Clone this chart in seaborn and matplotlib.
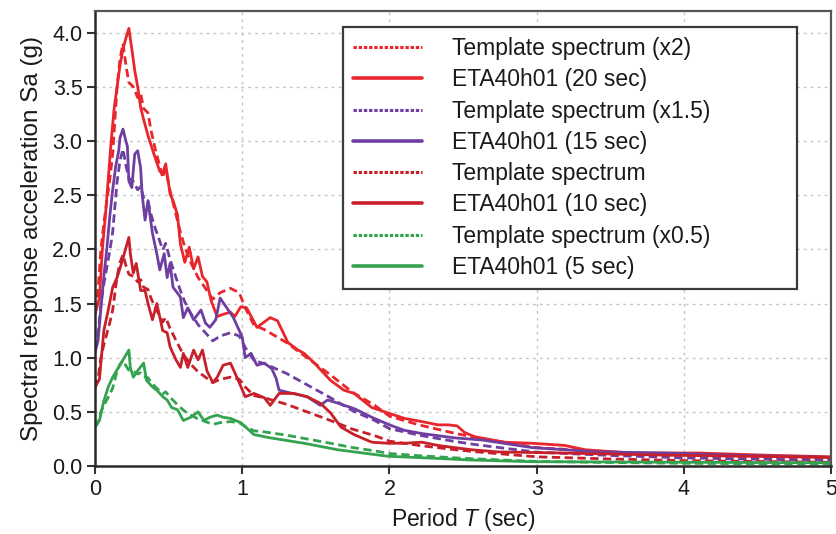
import numpy as np
import pandas as pd
import matplotlib
matplotlib.use("Agg")
import matplotlib.pyplot as plt
from matplotlib.lines import Line2D
import seaborn as sns

# ---------------- data ----------------
template_T = [0, 0.02, 0.04, 0.06, 0.08, 0.10, 0.12, 0.15, 0.17, 0.19, 0.21, 0.23, 0.26,
              0.29, 0.31, 0.33, 0.36, 0.38, 0.41, 0.43, 0.46, 0.48, 0.51, 0.55, 0.58, 0.61,
              0.65, 0.70, 0.75, 0.80, 0.85, 0.92, 0.98, 1.02, 1.08, 1.15, 1.30, 1.44, 1.60,
              1.75, 1.90, 2.00, 2.20, 2.45, 2.60, 3.00, 3.50, 4.00, 4.50, 5.00]
template_Sa = [0.72, 0.80, 1.00, 1.12, 1.22, 1.32, 1.44, 1.75, 1.88, 1.95, 1.85, 1.77, 1.75,
               1.70, 1.72, 1.65, 1.63, 1.55, 1.46, 1.41, 1.33, 1.37, 1.27, 1.16, 1.08, 1.01,
               0.94, 0.87, 0.82, 0.77, 0.80, 0.82, 0.80, 0.73, 0.65, 0.63, 0.57, 0.50, 0.42,
               0.34, 0.28, 0.23, 0.19, 0.15, 0.13, 0.085, 0.065, 0.05, 0.042, 0.035]
template_scales = [2.0, 1.5, 1.0, 0.5]

eta20_T = [0, 0.03, 0.05, 0.07, 0.09, 0.11, 0.13, 0.15, 0.17, 0.19, 0.21, 0.23, 0.25, 0.27,
           0.29, 0.31, 0.33, 0.36, 0.40, 0.44, 0.46, 0.48, 0.51, 0.53, 0.56, 0.58, 0.61, 0.64,
           0.67, 0.70, 0.73, 0.76, 0.79, 0.83, 0.87, 0.92, 0.95, 0.99, 1.03, 1.10, 1.19, 1.24,
           1.31, 1.38, 1.42, 1.49, 1.60, 1.69, 1.76, 1.88, 1.99, 2.10, 2.22, 2.33, 2.40, 2.46,
           2.51, 2.58, 2.78, 2.97, 3.19, 3.33, 3.65, 4.10, 4.56, 5.00]
eta20_Sa = [1.40, 1.55, 2.00, 2.30, 2.65, 3.00, 3.30, 3.50, 3.70, 3.85, 3.95, 4.04, 3.85, 3.65,
            3.50, 3.31, 3.20, 3.05, 2.88, 2.72, 2.70, 2.79, 2.51, 2.45, 2.32, 2.05, 1.88, 2.02,
            1.82, 1.93, 1.75, 1.70, 1.52, 1.38, 1.40, 1.42, 1.38, 1.47, 1.46, 1.28, 1.37, 1.34,
            1.14, 1.07, 1.04, 0.95, 0.79, 0.70, 0.67, 0.54, 0.49, 0.44, 0.41, 0.38, 0.38, 0.37,
            0.31, 0.27, 0.22, 0.21, 0.19, 0.15, 0.12, 0.12, 0.10, 0.085]

eta15_T = [0, 0.02, 0.04, 0.06, 0.08, 0.10, 0.12, 0.14, 0.16, 0.17, 0.19, 0.21, 0.22, 0.23,
           0.25, 0.27, 0.29, 0.31, 0.32, 0.34, 0.36, 0.39, 0.42, 0.44, 0.47, 0.49, 0.51, 0.53,
           0.58, 0.60, 0.63, 0.67, 0.72, 0.75, 0.78, 0.82, 0.85, 0.90, 0.94, 1.00, 1.02, 1.06,
           1.10, 1.15, 1.20, 1.23, 1.25, 1.31, 1.44, 1.53, 1.58, 1.65, 1.76, 1.88, 2.00, 2.10,
           2.22, 2.44, 2.63, 2.97, 3.42, 3.88, 4.33, 5.00]
eta15_Sa = [1.05, 1.15, 1.45, 1.75, 2.00, 2.30, 2.55, 2.76, 2.90, 3.03, 3.11, 3.00, 2.95, 2.63,
            2.57, 2.88, 2.91, 2.75, 2.51, 2.27, 2.45, 2.15, 1.96, 1.81, 1.96, 1.74, 1.87, 1.65,
            1.56, 1.37, 1.46, 1.35, 1.44, 1.32, 1.28, 1.35, 1.55, 1.45, 1.37, 1.19, 1.00, 1.04,
            0.93, 0.95, 0.90, 0.81, 0.70, 0.68, 0.64, 0.56, 0.61, 0.58, 0.53, 0.45, 0.38, 0.33,
            0.30, 0.26, 0.24, 0.17, 0.13, 0.12, 0.10, 0.08]

eta10_T = [0, 0.03, 0.06, 0.09, 0.12, 0.15, 0.18, 0.23, 0.24, 0.26, 0.28, 0.31, 0.34, 0.36,
           0.39, 0.42, 0.46, 0.49, 0.51, 0.55, 0.58, 0.60, 0.63, 0.67, 0.70, 0.73, 0.76, 0.80,
           0.83, 0.87, 0.92, 0.97, 1.02, 1.08, 1.15, 1.19, 1.25, 1.35, 1.44, 1.53, 1.60, 1.67,
           1.76, 1.88, 1.99, 2.10, 2.22, 2.33, 2.44, 2.56, 2.74, 3.19, 3.88, 5.00]
eta10_Sa = [0.73, 0.80, 1.25, 1.44, 1.65, 1.74, 1.87, 2.11, 1.96, 1.78, 1.87, 1.62, 1.62, 1.50,
            1.35, 1.50, 1.25, 1.23, 1.10, 0.98, 0.91, 1.04, 0.91, 1.07, 0.98, 1.07, 0.88, 0.77,
            0.82, 0.93, 0.95, 0.80, 0.64, 0.67, 0.63, 0.56, 0.67, 0.67, 0.64, 0.58, 0.49, 0.36,
            0.29, 0.22, 0.21, 0.21, 0.22, 0.19, 0.17, 0.15, 0.13, 0.12, 0.10, 0.08]

eta5_T = [0, 0.03, 0.06, 0.09, 0.12, 0.16, 0.19, 0.23, 0.24, 0.26, 0.29, 0.33, 0.35, 0.39,
          0.42, 0.46, 0.49, 0.52, 0.56, 0.60, 0.65, 0.70, 0.74, 0.78, 0.83, 0.87, 0.92, 0.99,
          1.08, 1.19, 1.42, 1.65, 1.99, 2.33, 2.56, 2.97, 4.00, 5.00]
eta5_Sa = [0.36, 0.42, 0.60, 0.73, 0.82, 0.91, 0.98, 1.07, 0.91, 0.82, 0.88, 0.95, 0.79, 0.73,
           0.70, 0.64, 0.61, 0.54, 0.52, 0.42, 0.45, 0.50, 0.42, 0.45, 0.47, 0.45, 0.44, 0.40,
           0.29, 0.26, 0.21, 0.15, 0.09, 0.07, 0.055, 0.04, 0.035, 0.03]

template_labels = ["Template spectrum (x2)", "Template spectrum (x1.5)",
                   "Template spectrum", "Template spectrum (x0.5)"]
eta_labels = ["ETA40h01 (20 sec)", "ETA40h01 (15 sec)",
              "ETA40h01 (10 sec)", "ETA40h01 (5 sec)"]
colors = ["#e8262c", "#6e3fa0", "#c8202a", "#34a350"]

x_ticks = [0, 1, 2, 3, 4, 5]
y_ticks = [0.0, 0.5, 1.0, 1.5, 2.0, 2.5, 3.0, 3.5, 4.0]

# ---------------- style ----------------
sns.set_theme(style="white")
plt.rcParams["font.family"] = ["Liberation Sans", "DejaVu Sans"]
plt.rcParams["mathtext.fontset"] = "custom"
plt.rcParams["mathtext.rm"] = "Liberation Sans"
plt.rcParams["mathtext.it"] = "Liberation Sans:italic"

fig = plt.figure(figsize=(8.37, 5.34), dpi=100)
ax = fig.add_axes([0.1135, 0.1273, 0.8795, 0.8521])

eta_sets = [(eta20_T, eta20_Sa), (eta15_T, eta15_Sa), (eta10_T, eta10_Sa), (eta5_T, eta5_Sa)]
tmpl_T = np.array(template_T)
tmpl_Sa = np.array(template_Sa)

handles = []
labels = []
for i in range(4):
    eT, eS = eta_sets[i]
    sns.lineplot(x=eT, y=eS, ax=ax, color=colors[i], linewidth=2.0,
                 estimator=None, sort=False, legend=False)
    sns.lineplot(x=tmpl_T, y=tmpl_Sa * template_scales[i], ax=ax, color=colors[i],
                 linewidth=2.0, linestyle=(0, (3, 1.6)), estimator=None, sort=False,
                 legend=False)
    handles.append(Line2D([], [], color=colors[i], linewidth=2.2, linestyle=(0, (1.1, 0.6))))
    labels.append(template_labels[i])
    handles.append(Line2D([], [], color=colors[i], linewidth=2.6))
    labels.append(eta_labels[i])

ax.set_xlim(0, 5)
ax.set_ylim(0, 4.2)
ax.set_xticks(x_ticks)
ax.set_xticklabels([str(v) for v in x_ticks])
ax.set_yticks(y_ticks)
ax.set_yticklabels([f"{v:.1f}" for v in y_ticks])

ax.grid(True, linestyle=(0, (2, 3)), color="#c4c4c4", linewidth=1.0)
for side in ["left", "bottom"]:
    ax.spines[side].set_color("#2a2a2a")
    ax.spines[side].set_linewidth(1.8)
for side in ["top", "right"]:
    ax.spines[side].set_color("#555555")
    ax.spines[side].set_linewidth(1.6)

ax.tick_params(axis="both", which="major", direction="out", length=6, width=1.5,
               color="#333333", labelsize=15.5, labelcolor="#1a1a1a",
               left=True, bottom=True, pad=3)

ax.set_xlabel("Period $T$ (sec)", fontsize=16.5, color="#1a1a1a", labelpad=5)
ax.set_ylabel("Spectral response acceleration Sa (g)", fontsize=17.5, color="#1a1a1a",
              labelpad=7)

leg = ax.legend(handles, labels, loc="upper left",
                bbox_to_anchor=(0.337, 0.0, 0.617, 0.965), mode="expand",
                fontsize=16.5, frameon=True, fancybox=False, framealpha=1,
                edgecolor="#3a3a3a", handlelength=3.0, handletextpad=1.3,
                labelspacing=0.36, borderpad=0.45, borderaxespad=0)
leg.get_frame().set_linewidth(1.6)
for t in leg.get_texts():
    t.set_color("#1a1a1a")

fig.savefig("out.png", dpi=100)
